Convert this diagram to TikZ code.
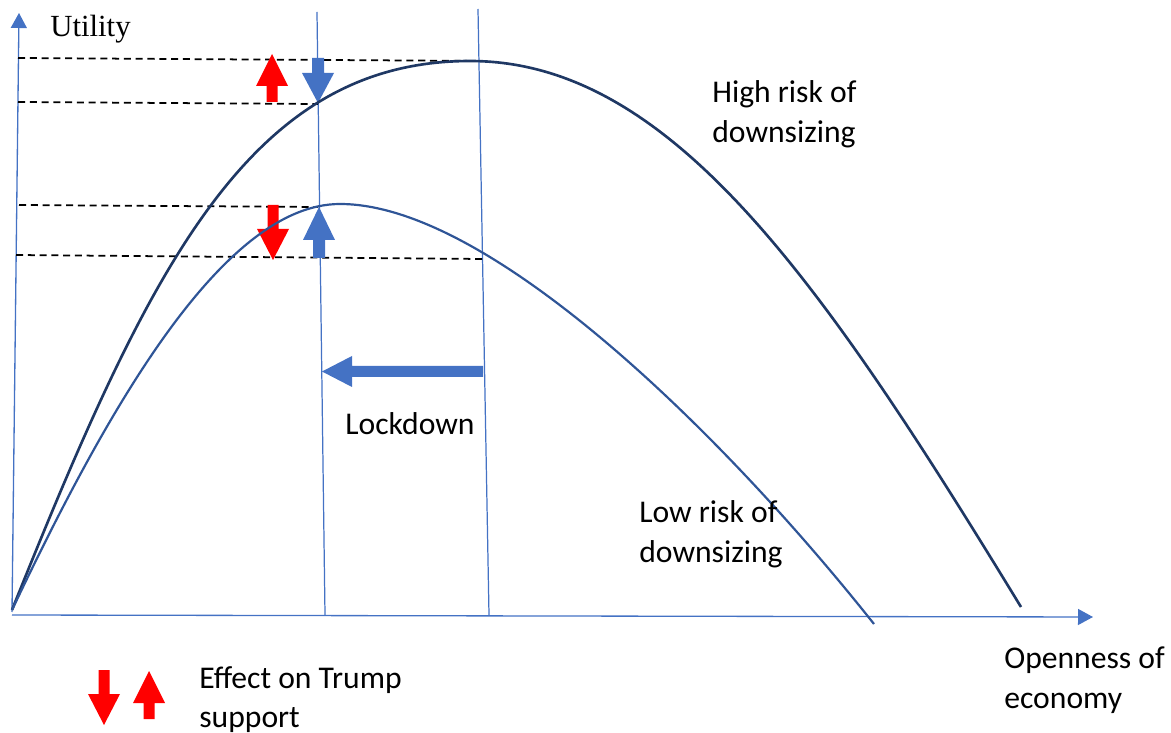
\documentclass[tikz,border=0pt]{standalone}
\usepackage{fontspec}
\setmainfont{Carlito}
\newfontfamily\timesf{Liberation Serif}
\usetikzlibrary{arrows.meta}
\definecolor{axisblue}{HTML}{4472C4}
\definecolor{navy}{HTML}{1F3864}
\definecolor{midblue}{HTML}{2F5597}
\definecolor{arrowblue}{HTML}{4472C4}
\definecolor{arrowred}{HTML}{FF0000}
\newcommand{\varrowshape}[6]{\fill[#1] (#2-#6,#3) -- (#2+#6,#3) -- (#2+#6,#4) -- (#2+16,#4) -- (#2,#5) -- (#2-16,#4) -- (#2-#6,#4) -- cycle;}
\begin{document}
\begin{tikzpicture}[x=0.02cm,y=-0.02cm,
  axis/.style={draw=axisblue,line width=0.75pt,-{Triangle[width=0.32cm,length=0.3cm]}},
  guide/.style={draw=axisblue,line width=0.7pt},
  level/.style={draw=black,line width=1pt,dash pattern=on 4pt off 2.7pt},
  highcurve/.style={draw=navy,line width=1.5pt},
  lowcurve/.style={draw=midblue,line width=1.25pt},
  lbl/.style={anchor=base west,inner sep=0pt,font=\fontsize{18pt}{22.7pt}\selectfont}]
\useasboundingbox (0,0) rectangle (1171,733);
% axes
\coordinate (O) at (12,612);
\coordinate (ytop) at (19,13);
\coordinate (xo) at (12,615);
\coordinate (xend) at (1093,617);
\draw[axis] (O) -- (ytop);
\draw[axis] (xo) -- (xend);
% vertical guides
\coordinate (v1t) at (317,12);
\coordinate (v1b) at (325,615);
\coordinate (v2t) at (478,9);
\coordinate (v2b) at (489,615);
\draw[guide] (v1t) -- (v1b);
\draw[guide] (v2t) -- (v2b);
% dashed levels
\coordinate (d1a) at (18,58);  \coordinate (d1b) at (485,61);
\coordinate (d2a) at (18,102); \coordinate (d2b) at (318,104);
\coordinate (d3a) at (19,205); \coordinate (d3b) at (318,207);
\coordinate (d4a) at (16,255); \coordinate (d4b) at (483,259);
\draw[level] (d1a) -- (d1b);
\draw[level] (d2a) -- (d2b);
\draw[level] (d3a) -- (d3b);
\draw[level] (d4a) -- (d4b);
% block arrows
\varrowshape{arrowred}{272}{102}{86}{54}{5.5}
\varrowshape{arrowblue}{318}{58}{73}{103}{6}
\varrowshape{arrowred}{273}{205}{229}{260}{5.5}
\varrowshape{arrowblue}{319}{258}{240}{207}{6}
\varrowshape{arrowred}{104}{670}{694}{725}{5.5}
\varrowshape{arrowred}{149}{719}{703}{671}{5.5}
\fill[arrowblue] (483,366) -- (352,366) -- (352,356) -- (322,371.5) -- (352,387) -- (352,377) -- (483,377) -- cycle;
% curves
\coordinate (hs) at (12,610);
\coordinate (hp) at (470,61);
\coordinate (he) at (1021,607);
\coordinate (ls) at (12,610);
\coordinate (lp) at (340,204);
\coordinate (le) at (874,624);
\draw[highcurve] (hs) .. controls (150,265) and (250,61) .. (hp)
                      .. controls (670,61) and (821,279) .. (he);
\draw[lowcurve] (ls) .. controls (102,421) and (220,204) .. (lp)
                     .. controls (490,204) and (724,435) .. (le);
% labels
\node[anchor=base west,inner sep=0pt,font=\timesf\fontsize{17.5pt}{21pt}\selectfont] (util) at (50,37) {Utility};
\node[lbl] (high1) at (712,103) {High risk of};
\node[lbl] (high2) at (712,143) {downsizing};
\node[lbl] (low1) at (639,522) {Low risk of};
\node[lbl] (low2) at (639,562) {downsizing};
\node[lbl] (lock) at (345,435) {Lockdown};
\node[lbl] (eff1) at (199,688) {Effect on Trump};
\node[lbl] (eff2) at (199,727) {support};
\node[lbl] (open1) at (1004,668) {Openness of};
\node[lbl] (open2) at (1004,708) {economy};
\end{tikzpicture}
\end{document}
